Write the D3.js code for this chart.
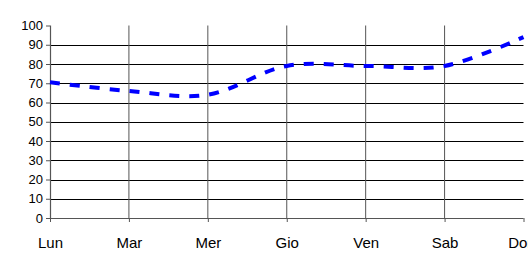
<!DOCTYPE html>
<html>
<head>
<meta charset="utf-8">
<script src="https://cdn.jsdelivr.net/npm/d3@7"></script>
<style>
  body { margin: 0; background: #fff; overflow: hidden; }
  svg { display: block; font-family: "Liberation Sans", Arial, sans-serif; }
</style>
</head>
<body>
<script>
// days of the week (Italian) and the values
var days = ["Lun", "Mar", "Mer", "Gio", "Ven", "Sab", "Dom"];
var values = [70.5, 66, 64, 79, 79, 79, 94];
var yTicks = [0, 10, 20, 30, 40, 50, 60, 70, 80, 90, 100];

var DATA = [];
for (var i = 0; i < days.length; i++) {
    DATA.push({day: days[i], value: values[i]});
}

// careful: "top" is taken by window.top, so prefix everything
var W = 528, H = 258;
var plotLeft = 50, plotRight = 523.5, plotTop = 25.5, plotBottom = 218;

var xScale = d3.scalePoint().domain(days).range([plotLeft, plotRight]);
var yScale = d3.scaleLinear().domain([0, 100]).range([plotBottom, plotTop]);

var svg = d3.select("body").append("svg")
    .attr("width", W)
    .attr("height", H);

// horizontal gridlines (none at the top value)
svg.append("g").selectAll("line")
    .data(yTicks.filter(function (d) { return d > 0 && d < 100; }))
    .enter().append("line")
    .attr("x1", plotLeft).attr("x2", plotRight)
    .attr("y1", function (d) { return Math.round(yScale(d)) + 0.5; })
    .attr("y2", function (d) { return Math.round(yScale(d)) + 0.5; })
    .attr("stroke", "#000").attr("stroke-width", 1);

// vertical gridlines at inner categories
svg.append("g").selectAll("line")
    .data(days.slice(1, days.length - 1))
    .enter().append("line")
    .attr("x1", function (d) { return xScale(d); })
    .attr("x2", function (d) { return xScale(d); })
    .attr("y1", yScale(100)).attr("y2", plotBottom)
    .attr("stroke", "#555").attr("stroke-width", 1);

// axes
var yAxis = svg.append("g")
    .attr("transform", "translate(" + plotLeft + ",0)")
    .call(d3.axisLeft(yScale).tickValues(yTicks).tickSize(4).tickPadding(3));
var xAxis = svg.append("g")
    .attr("transform", "translate(0," + plotBottom + ")")
    .call(d3.axisBottom(xScale).tickSize(4).tickPadding(15));

[yAxis, xAxis].forEach(function (ax) {
    ax.attr("font-family", "'Liberation Sans', Arial, sans-serif");
    ax.select(".domain").attr("stroke", "#555").attr("stroke-width", 1.2);
    ax.selectAll(".tick line").attr("stroke", "#555");
    ax.selectAll("text").attr("fill", "#000");
});
yAxis.attr("font-size", 13);
xAxis.attr("font-size", 15);
xAxis.select(".domain").attr("d", "M" + plotLeft + ",0.5H" + plotRight);
yAxis.select(".domain").attr("d", "M0.5," + yScale(100) + "V" + plotBottom);

// smoothed dashed line
var line = d3.line()
    .x(function (d) { return xScale(d.day); })
    .y(function (d) { return yScale(d.value); })
    .curve(d3.curveCatmullRom.alpha(0));

svg.append("path").datum(DATA)
    .attr("d", line)
    .attr("fill", "none")
    .attr("stroke", "#0000ff")
    .attr("stroke-width", 4)
    .attr("stroke-dasharray", "10,10");
</script>
</body>
</html>
